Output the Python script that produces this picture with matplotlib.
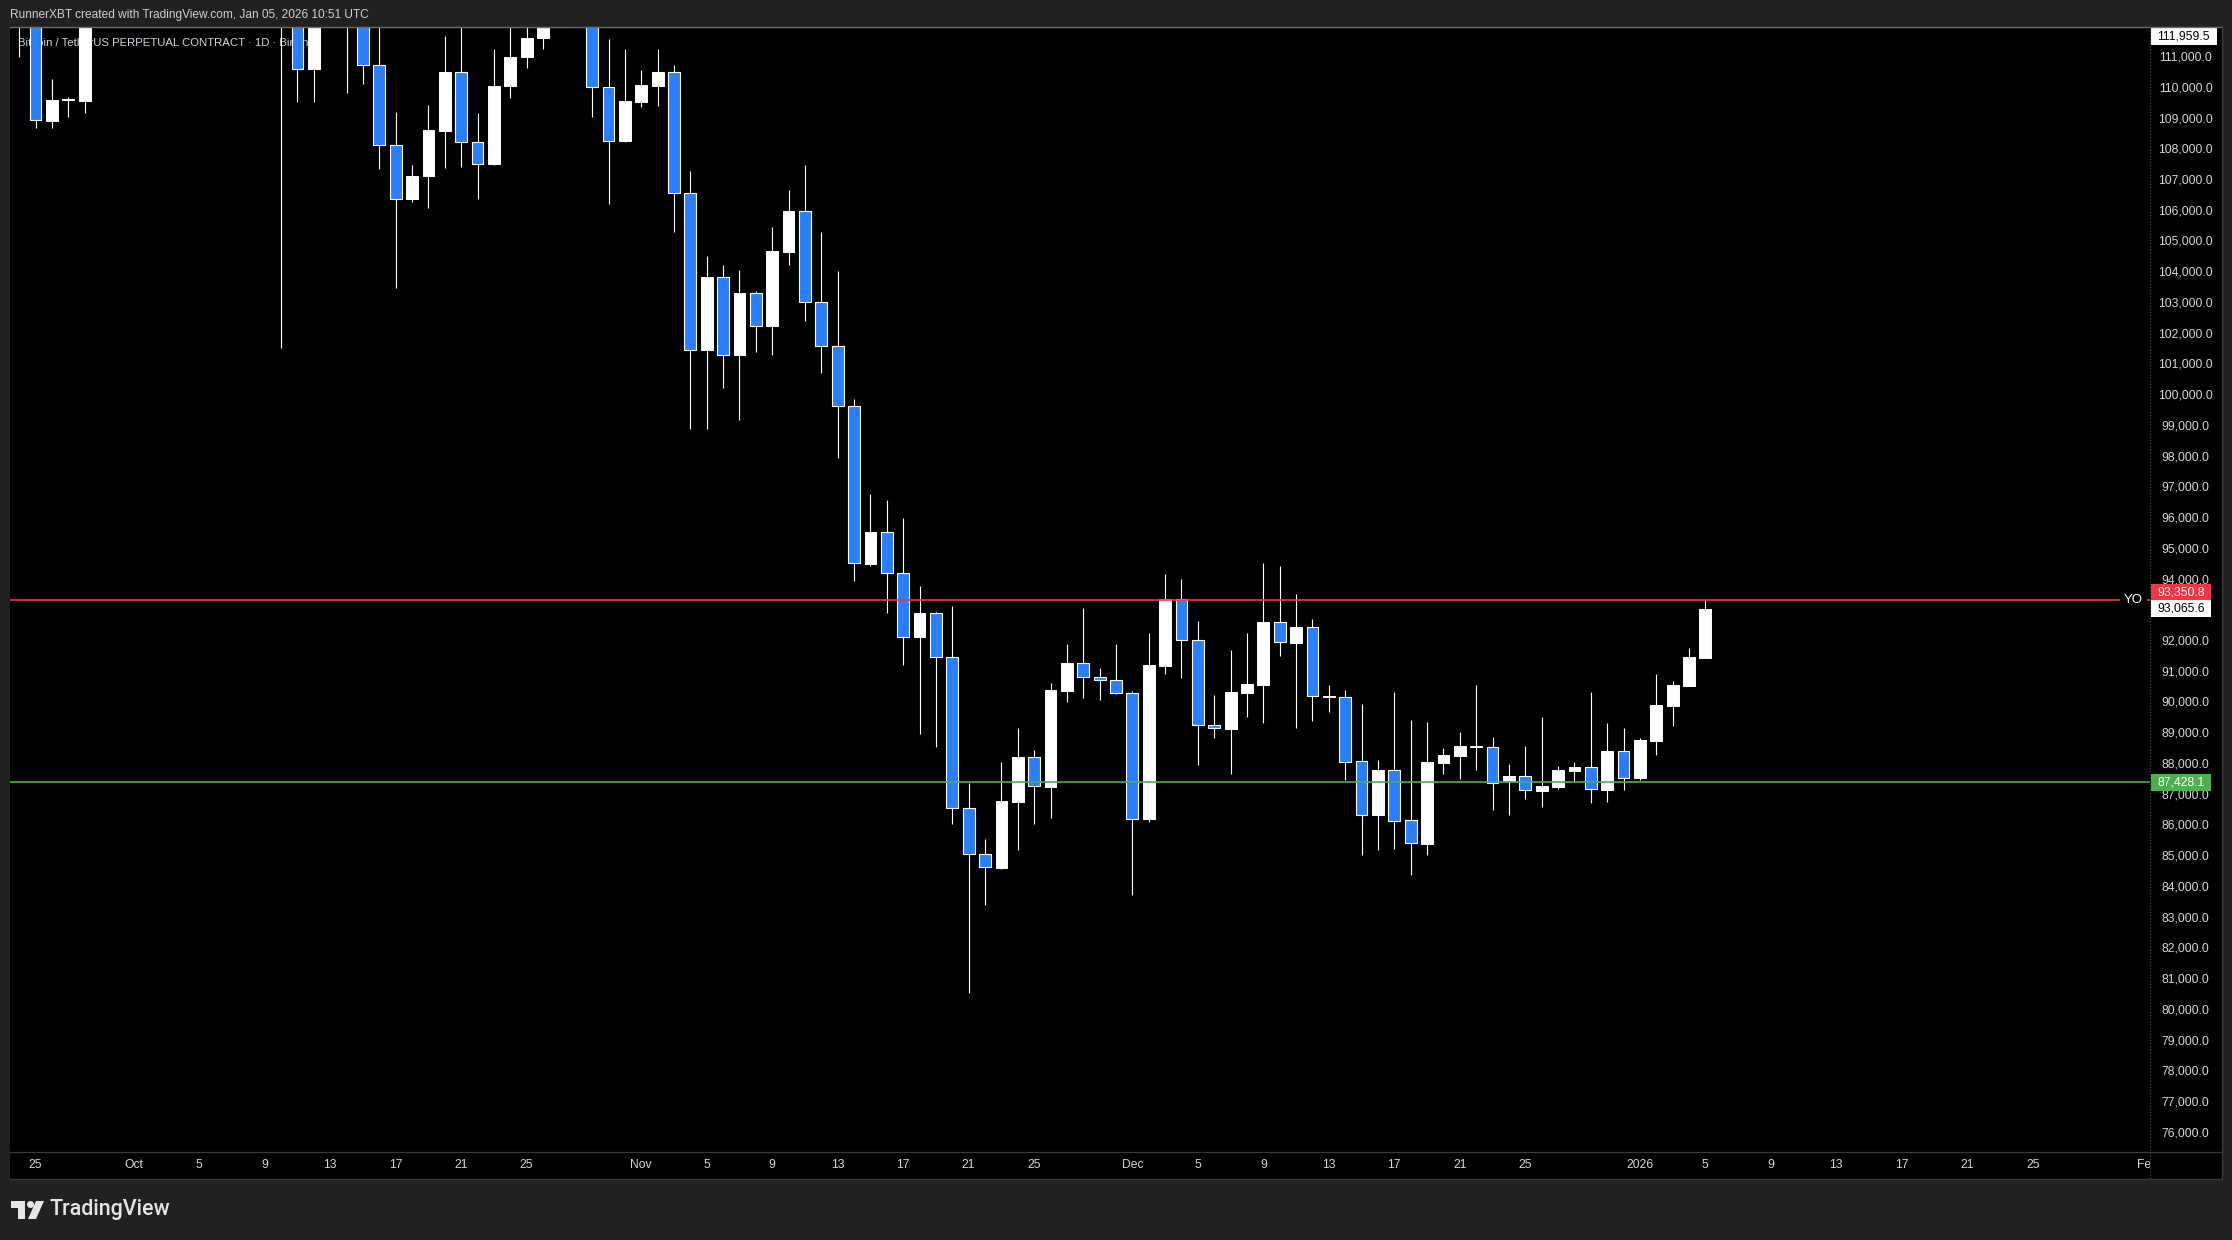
import numpy as np
import pandas as pd
import matplotlib
matplotlib.use("Agg")
import matplotlib.pyplot as plt
import matplotlib.dates as mdates
import matplotlib.transforms as mtrans
from matplotlib.patches import Rectangle, Polygon, Circle

plt.rcParams['font.family'] = ['Liberation Sans', 'DejaVu Sans']

# daily candles, Sep 24 2025 .. Jan 5 2026 (BTCUSDT.P, Binance)
dates = pd.date_range("2025-09-24", "2026-01-05", freq="D")
opens = [112000, 113300, 108950, 109620, 109600, 112100, 114400, 114050, 118600, 120600,
         122300, 122400, 123500, 124700, 121400, 123300, 121700, 113200, 110620, 115200,
         115300, 113000, 110750, 108150, 106410, 107140, 108620, 110520, 108270, 107550,
         110070, 111010, 111650, 114500, 114100, 112900, 110030, 108300, 109560, 110090,
         110520, 106590, 101480, 103850, 101310, 103330, 102280, 104680, 106000, 103040,
         101610, 99650, 94530, 95550, 94220, 92160, 92920, 91490, 86570, 85080,
         84640, 86790, 88230, 87280, 90400, 91290, 90840, 90740, 90320, 86210,
         91210, 93370, 92040, 89270, 89160, 90330, 90600, 92630, 91960, 92460,
         90190, 90190, 88100, 86370, 87810, 86180, 85420, 88060, 88290, 88560,
         88560, 87460, 87610, 87150, 87280, 87800, 87910, 87180, 88430, 87570,
         88770, 89910, 90560, 91470]
highs = [113400, 113500, 110300, 109730, 112400, 114500, 114800, 118600, 121000, 123900,
         122900, 125500, 126200, 125100, 124200, 123800, 122500, 113400, 115800, 116000,
         115600, 113600, 113000, 109230, 107500, 109450, 111700, 114000, 109200, 111280,
         112100, 112200, 115000, 116000, 116100, 113600, 111600, 111280, 110600, 111280,
         110760, 107310, 104550, 104250, 104080, 103410, 105490, 106690, 107510, 105330,
         104060, 99890, 96800, 96600, 96020, 93810, 92950, 93160, 87410, 85560,
         88070, 89180, 88470, 90650, 91920, 93090, 91140, 91920, 90390, 92280,
         94200, 94030, 92670, 90260, 91720, 92280, 94560, 94460, 93550, 92730,
         90590, 90420, 89970, 88140, 90360, 89450, 89380, 88540, 89060, 90590,
         88890, 88010, 88600, 89540, 87950, 88080, 90360, 89350, 89190, 88860,
         90940, 90720, 91790, 93380]
lows = [111010, 108700, 108700, 109080, 109190, 112200, 112700, 113900, 118300, 119300,
        121000, 122300, 123000, 120600, 121100, 119600, 101560, 109570, 109570, 113000,
        109860, 110150, 107390, 103510, 106310, 106120, 107420, 107450, 106410, 107520,
        109700, 110670, 111280, 113800, 112300, 109080, 106250, 108270, 109400, 109440,
        105340, 98930, 98930, 100260, 99210, 101430, 101330, 104260, 102440, 100750,
        97980, 93980, 94450, 92940, 91240, 88990, 88580, 86070, 80570, 83440,
        84610, 85220, 86070, 86270, 90040, 90170, 90110, 90300, 83760, 86140,
        90950, 90820, 87990, 88870, 87700, 89550, 89360, 91540, 89200, 89420,
        89710, 87490, 85060, 85220, 85260, 84410, 85060, 87700, 87540, 87830,
        86530, 86370, 86890, 86620, 87200, 87450, 86760, 86790, 87180, 87500,
        88320, 89260, 90560, 91470]
closes = [113300, 108960, 109620, 109660, 112100, 114400, 114050, 118600, 120600, 122300,
          122400, 123500, 124700, 121400, 123300, 121700, 113200, 110620, 115200, 115300,
          113000, 110750, 108150, 106410, 107150, 108640, 110520, 108260, 107550, 110080,
          111020, 111640, 114500, 114100, 112900, 110030, 108300, 109580, 110110, 110540,
          106590, 101480, 103860, 101310, 103330, 102280, 104710, 106010, 103040, 101610,
          99650, 94550, 95560, 94220, 92160, 92920, 91490, 86570, 85080, 84650,
          86810, 88230, 87290, 90410, 91290, 90840, 90740, 90315, 86220, 91240,
          93380, 92040, 89270, 89180, 90350, 90620, 92640, 91970, 92470, 90220,
          90230, 88090, 86370, 87820, 86170, 85430, 88080, 88310, 88590, 88590,
          87390, 87610, 87160, 87300, 87820, 87920, 87190, 88440, 87570, 88800,
          89930, 90590, 91500, 93066]

# 93,000 sits under the price tags on the reference, so it is not shown
price_ticks = [p for p in range(76000, 112000, 1000) if p != 93000]
date_ticks = ["2025-09-25", "2025-10-01", "2025-10-05", "2025-10-09", "2025-10-13", "2025-10-17",
              "2025-10-21", "2025-10-25", "2025-11-01", "2025-11-05", "2025-11-09", "2025-11-13",
              "2025-11-17", "2025-11-21", "2025-11-25", "2025-12-01", "2025-12-05", "2025-12-09",
              "2025-12-13", "2025-12-17", "2025-12-21", "2025-12-25", "2026-01-01", "2026-01-05",
              "2026-01-09", "2026-01-13", "2026-01-17", "2026-01-21", "2026-01-25", "2026-02-01"]
date_labels = ["25", "Oct", "5", "9", "13", "17", "21", "25", "Nov", "5", "9", "13", "17", "21",
               "25", "Dec", "5", "9", "13", "17", "21", "25", "2026", "5", "9", "13", "17", "21",
               "25", "Feb"]

yo_level = 93350.8
green_level = 87428.1
last_price = 93065.6
top_label = 111959.5

W, H = 2232, 1240
BG = "#212121"
BLUE = "#2A7FFF"
TXT = "#d6d6d6"


def px_rect(x0, y0, x1, y1):
    return [x0 / W, 1 - y1 / H, (x1 - x0) / W, (y1 - y0) / H]


fig = plt.figure(figsize=(W / 100, H / 100), dpi=100, facecolor=BG)

y_lo, y_hi = 75389, 111996
x0 = mdates.date2num(pd.Timestamp("2025-09-25"))
x_lo, x_hi = x0 - 1.56, x0 + 129.16
ppx = (y_hi - y_lo) / 1125.0   # price per pixel

ax = fig.add_axes(px_rect(10, 27, 2150, 1152))
xax = fig.add_axes(px_rect(10, 1152, 2150, 1179))
pax = fig.add_axes(px_rect(2150, 27, 2222, 1152))
cax = fig.add_axes(px_rect(2150, 1152, 2222, 1179))
for a in (ax, xax, pax, cax):
    a.set_facecolor("black")
    a.set_xticks([])
    a.set_yticks([])
    for s in a.spines.values():
        s.set_visible(False)

# candles
o = np.array(opens, float)
h = np.array(highs, float)
l = np.array(lows, float)
c = np.array(closes, float)
x = mdates.date2num(dates)
up = c >= o
ax.vlines(x, l, h, color="white", lw=0.8, zorder=3)
ax.bar(x[up], (c - o)[up], bottom=o[up], width=0.72, color="white",
       edgecolor="white", lw=0.7, zorder=4)
ax.bar(x[~up], (o - c)[~up], bottom=c[~up], width=0.72, color=BLUE,
       edgecolor="white", lw=0.8, zorder=4)

ax.axhline(yo_level, color="#f23645", lw=1.2, zorder=5)
ax.axhline(green_level, color="#4caf50", lw=1.2, zorder=5)
ax.text(0.9967, yo_level, "YO", transform=mtrans.blended_transform_factory(ax.transAxes, ax.transData),
        ha="right", va="center", color="white", fontsize=9.5, zorder=6,
        bbox=dict(boxstyle="square,pad=0.3", fc="black", ec="none"))
ax.text(8 / 2140, 1 - 16 / 1125, "Bitcoin / TetherUS PERPETUAL CONTRACT · 1D · Binance",
        transform=ax.transAxes, ha="left", va="center", color="#d1d4dc", fontsize=8.2, zorder=1)
ax.set_xlim(x_lo, x_hi)
ax.set_ylim(y_lo, y_hi)

# price scale
pax.set_ylim(y_lo, y_hi)
pax.set_xlim(0, 72)
for p in price_ticks:
    pax.text(35.5, p, f"{p:,.1f}", ha="center", va="center", color=TXT, fontsize=8.7)


def tag(ax_, center, half, x_a, x_b, fc, txt, tc):
    ax_.add_patch(Rectangle((x_a, center - half * ppx), x_b - x_a, 2 * half * ppx,
                            fc=fc, ec="none", zorder=5))
    ax_.text((x_a + x_b) / 2, center, txt, ha="center", va="center", color=tc,
             fontsize=8.7, zorder=6)


tag(pax, y_hi - 9.5 * ppx, 8.5, 0.7, 67, "white", f"{top_label:,.1f}", "black")
tag(pax, yo_level + 8 * ppx, 8, 1, 60.7, "#f23645", f"{yo_level:,.1f}", "white")
tag(pax, last_price, 8.5, 1, 60.7, "white", f"{last_price:,.1f}", "black")
tag(pax, green_level, 8.5, 1, 60.7, "#4caf50", f"{green_level:,.1f}", "white")

# time scale
xax.set_xlim(x_lo, x_hi)
xax.set_ylim(0, 1)
for d, lab in zip(date_ticks, date_labels):
    t = xax.text(mdates.date2num(pd.Timestamp(d)), 0.5, lab, ha="center", va="center",
                 color=TXT, fontsize=8.7, clip_on=True)
    t.set_clip_box(xax.bbox)

# frame, header and logo in pixel space
ov = fig.add_axes([0, 0, 1, 1])
ov.set_xlim(0, W)
ov.set_ylim(H, 0)
ov.axis("off")
ov.plot([10, 2222], [27, 27], color="#6c6c6c", lw=1.0)
ov.plot([10, 2222], [1152, 1152], color="#3a3a3a", lw=0.9)
ov.plot([2150, 2150], [27, 1179], color="#444444", lw=0.9, ls=(0, (1, 1.5)))
ov.plot([2222, 2222, 10], [27, 1179, 1179], color="#3a3a3a", lw=1.0)
ov.text(10, 15, "RunnerXBT created with TradingView.com, Jan 05, 2026 10:51 UTC",
        ha="left", va="center", color="#d0d0d0", fontsize=8.6)
ov.add_patch(Polygon([(11, 1201), (25, 1201), (25, 1219), (18, 1219), (18, 1208), (11, 1208)],
                     closed=True, fc="#e6e6e6", ec="none"))
ov.add_patch(Circle((30.5, 1204.5), 3.5, fc="#e6e6e6", ec="none"))
ov.add_patch(Polygon([(36, 1201), (44, 1201), (36, 1219), (28, 1219)],
                     closed=True, fc="#e6e6e6", ec="none"))
ov.text(50, 1210, "TradingView", ha="left", va="center", color="#e6e6e6",
        fontsize=15.5, fontfamily=["Roboto", "Liberation Sans", "DejaVu Sans"], fontweight="medium")

fig.savefig("out.png", dpi=100, facecolor=BG)
